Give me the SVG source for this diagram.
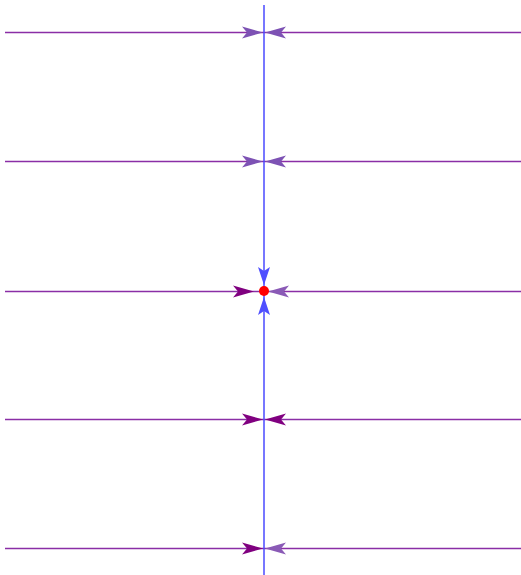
<svg xmlns="http://www.w3.org/2000/svg" width="521" height="575" viewBox="0 0 521 575">
<style>
.h{stroke:#8a2ea6;stroke-width:1.5;fill:none}
.v{stroke:#4a4aff;stroke-width:1.5;fill:none}
.a1{fill:#7d52b4}
.a2{fill:#800080}
.a3{fill:#8a5ab6}
.ab{fill:#4f4fff}
</style>
<defs>
<path id="ar" d="M0,0 L-21,-6 L-16,0 L-21,6 Z"/>
<path id="al" d="M0,0 L21,-6 L16,0 L21,6 Z"/>
<path id="ad" d="M0,0 L-6,-18 L0,-14 L6,-18 Z"/>
<path id="au" d="M0,0 L-6,18 L0,14 L6,18 Z"/>
</defs>
<g id="connectors">
<line class="h" x1="5" y1="32.5" x2="264" y2="32.5"/>
<line class="h" x1="264" y1="32.5" x2="521" y2="32.5"/>
<line class="h" x1="5" y1="161.5" x2="264" y2="161.5"/>
<line class="h" x1="264" y1="161.5" x2="521" y2="161.5"/>
<line class="h" x1="5" y1="291.5" x2="264" y2="291.5"/>
<line class="h" x1="264" y1="291.5" x2="521" y2="291.5"/>
<line class="h" x1="5" y1="419.5" x2="264" y2="419.5"/>
<line class="h" x1="264" y1="419.5" x2="521" y2="419.5"/>
<line class="h" x1="5" y1="548.5" x2="264" y2="548.5"/>
<line class="h" x1="264" y1="548.5" x2="521" y2="548.5"/>
<line class="v" x1="264" y1="5" x2="264" y2="575"/>
<use href="#ar" class="a1" x="263" y="32.5"/>
<use href="#al" class="a1" x="265" y="32.5"/>
<use href="#ar" class="a1" x="263" y="161.5"/>
<use href="#al" class="a1" x="265" y="161.5"/>
<use href="#ar" class="a2" x="254" y="291.5"/>
<use href="#al" class="a3" x="268" y="291.5"/>
<use href="#ar" class="a2" x="263" y="419.5"/>
<use href="#al" class="a2" x="265" y="419.5"/>
<use href="#ar" class="a2" x="263" y="548.5"/>
<use href="#al" class="a3" x="265" y="548.5"/>
<use href="#ad" class="ab" x="264" y="285"/>
<use href="#au" class="ab" x="264" y="297"/>
</g>
<g id="node-equilibrium">
<circle cx="264" cy="291" r="5" fill="#ff0000"/>
</g>
</svg>
